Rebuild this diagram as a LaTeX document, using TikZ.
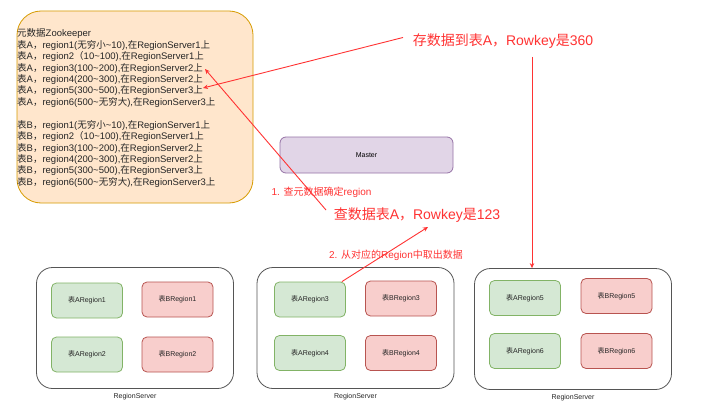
\documentclass[tikz,border=0pt]{standalone}
\usepackage{fontspec}
\setmainfont{Liberation Sans}
\newfontfamily\cjk{Noto Sans CJK SC}
\usetikzlibrary{arrows.meta}
\definecolor{zkfill}{HTML}{FFE6CC}
\definecolor{zkdraw}{HTML}{D79B00}
\definecolor{msfill}{HTML}{E1D5E7}
\definecolor{msdraw}{HTML}{9673A6}
\definecolor{gfill}{HTML}{D5E8D4}
\definecolor{gdraw}{HTML}{82B366}
\definecolor{rfill}{HTML}{F8CECC}
\definecolor{rdraw}{HTML}{B85450}
\definecolor{anno}{HTML}{FF3333}
\definecolor{rsdraw}{HTML}{555555}
\newcommand\C[1]{{\cjk #1}}
\newcommand\tld{\char"7E\relax}
\tikzset{
  zkbox/.style={draw=zkdraw, fill=zkfill, line width=0.8pt, rounded corners=24pt, minimum width=236pt, minimum height=192pt, inner sep=0pt},
  zktext/.style={align=left, inner sep=0pt, font=\fontsize{9.5}{11.44}\selectfont, text=black!85},
  masterbox/.style={draw=msdraw, fill=msfill, line width=0.8pt, rounded corners=6pt, minimum width=173pt, minimum height=36pt, font=\fontsize{7}{8}\selectfont},
  rsbox/.style={draw=rsdraw, fill=white, line width=0.8pt, rounded corners=16pt, minimum width=197pt, minimum height=121pt},
  rslabel/.style={font=\fontsize{7}{8}\selectfont, text=black!85, inner sep=0pt},
  abox/.style={draw=gdraw, fill=gfill, line width=0.8pt, rounded corners=5pt, minimum width=71pt, minimum height=35pt, font=\fontsize{7}{8}\selectfont, text=black!85},
  bbox/.style={draw=rdraw, fill=rfill, line width=0.8pt, rounded corners=5pt, minimum width=71pt, minimum height=35pt, font=\fontsize{7}{8}\selectfont, text=black!85},
  bignote/.style={text=anno, font=\fontsize{14}{16}\selectfont, inner sep=0pt},
  smallnote/.style={text=anno, font=\fontsize{10}{12}\selectfont, inner sep=0pt},
  redarrow/.style={draw=anno, line width=0.9pt, -{Stealth[length=5pt,width=4.5pt]}},
}
\begin{document}
\begin{tikzpicture}[x=1pt,y=-1pt]
\useasboundingbox[fill=white] (0,0) rectangle (720,412);

% Zookeeper
\node[zkbox] (zk) at (135,107) {};
\node[zktext, anchor=north west] (zktxt) at (17,28.5) {%
\C{元数据}Zookeeper\\
\C{表}A\C{，}region1(\C{无穷小}\tld10),\C{在}RegionServer1\C{上}\\
\C{表}A\C{，}region2\C{（}10\tld100),\C{在}RegionServer1\C{上}\\
\C{表}A\C{，}region3(100\tld200),\C{在}RegionServer2\C{上}\\
\C{表}A\C{，}region4(200\tld300),\C{在}RegionServer2\C{上}\\
\C{表}A\C{，}region5(300\tld500),\C{在}RegionServer3\C{上}\\
\C{表}A\C{，}region6(500\tld\C{无穷大}),\C{在}RegionServer3\C{上}\\[11.44pt]
\C{表}B\C{，}region1(\C{无穷小}\tld10),\C{在}RegionServer1\C{上}\\
\C{表}B\C{，}region2\C{（}10\tld100),\C{在}RegionServer1\C{上}\\
\C{表}B\C{，}region3(100\tld200),\C{在}RegionServer2\C{上}\\
\C{表}B\C{，}region4(200\tld300),\C{在}RegionServer2\C{上}\\
\C{表}B\C{，}region5(300\tld500),\C{在}RegionServer3\C{上}\\
\C{表}B\C{，}region6(500\tld\C{无穷大}),\C{在}RegionServer3\C{上}};
\coordinate (zkA3) at (205,69);
\coordinate (zkA5) at (203,88);

% Master
\node[masterbox] (master) at (366.5,155) {Master};

% Region servers
\node[rsbox] (rs1) at (135,328) {};
\node[rsbox] (rs2) at (355.5,328) {};
\node[rsbox] (rs3) at (573,329) {};
\node[rslabel] (rs1l) at (135,396.5) {RegionServer};
\node[rslabel] (rs2l) at (355.5,397) {RegionServer};
\node[rslabel] (rs3l) at (573,398) {RegionServer};

\node[abox] (a1) at (87,300.5) {\C{表}ARegion1};
\node[bbox] (b1) at (177.5,299.5) {\C{表}BRegion1};
\node[abox] (a2) at (87,354.5) {\C{表}ARegion2};
\node[bbox] (b2) at (177.5,354.5) {\C{表}BRegion2};

\node[abox] (a3) at (310,299.5) {\C{表}ARegion3};
\node[bbox] (b3) at (401,298.5) {\C{表}BRegion3};
\node[abox] (a4) at (310,353) {\C{表}ARegion4};
\node[bbox] (b4) at (401,353) {\C{表}BRegion4};

\node[abox] (a5) at (525,298) {\C{表}ARegion5};
\node[bbox] (b5) at (616.5,296) {\C{表}BRegion5};
\node[abox] (a6) at (525,351) {\C{表}ARegion6};
\node[bbox] (b6) at (616.5,351) {\C{表}BRegion6};

% Notes
\node[bignote] (store) at (503,41) {\C{存数据到表}A\C{，}Rowkey\C{是}360};
\node[bignote] (query) at (417,215) {\C{查数据表}A\C{，}Rowkey\C{是}123};
\node[smallnote] (step1) at (321.5,192) {1. \C{查元数据确定}region};
\node[smallnote] (step2) at (396,255) {2. \C{从对应的}Region\C{中取出数据}};

\coordinate (storeL) at (403,37.5);
\coordinate (storeD) at (532,57);
\coordinate (queryL) at (326,210);
\coordinate (queryB) at (428,227);

% Arrows
\draw[redarrow] (storeL) -- (zkA5);
\draw[redarrow] (storeD) -- (rs3.north -| storeD);
\draw[redarrow] (queryL) -- (zkA3);
\draw[redarrow] (a3.north east) ++(-4,0) -- (queryB);
\end{tikzpicture}
\end{document}
